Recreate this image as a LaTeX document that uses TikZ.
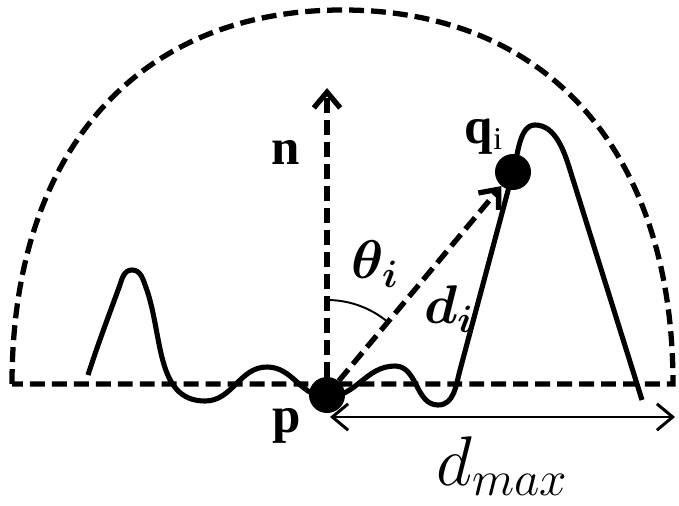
\RequirePackage{fix-cm}
\documentclass[tikz,border=0pt]{standalone}
\usepackage{amsmath}
\usepackage{bm}
\usepackage{fontspec}
\setmainfont{Liberation Serif}
\usetikzlibrary{arrows.meta}

\begin{document}
\begin{tikzpicture}[>={Straight Barb[length=9pt, width=15pt]}]
    \tikzstyle{dot}=[circle, fill=black, inner sep=0pt, minimum size=0.72cm]
    \tikzstyle{dashline}=[line width=3pt, dash pattern=on 8.5pt off 4pt]
    \tikzstyle{surface}=[line width=2.9pt, line join=round]
    \tikzstyle{boldtxt}=[inner sep=0pt, font=\fontsize{29pt}{29pt}\selectfont\bfseries]
    \tikzstyle{mathtxt}=[inner sep=0pt, font=\fontsize{31pt}{31pt}\selectfont]

    \useasboundingbox (0,0) rectangle (13.58,10.10);

    % hemisphere
    \draw[dashline] (0.24,2.42) .. controls (0.24,7.06) and (2.75,9.90) .. (6.85,9.90)
        .. controls (10.95,9.90) and (13.46,7.06) .. (13.46,2.42) -- cycle;

    % surface
    \draw[surface] (1.76,2.60) to[out=72,in=250] (2.38,4.35) to[out=70,in=180] (2.64,4.70)
        to[out=0,in=110] (2.92,4.35) to[out=-70,in=180] (4.10,2.08)
        to[out=0,in=180] (5.34,2.76) to[out=0,in=180] (6.54,2.16) to[out=0,in=180] (7.90,2.78)
        to[out=0,in=180] (8.76,2.00) to[out=0,in=255] (9.20,2.70) -- (10.26,6.66)
        to[out=72,in=180,looseness=0.8] (10.70,7.60) to[out=0,in=107,looseness=0.9] (11.40,6.70)
        -- (12.84,2.10);

    \node[dot] (p) at (6.54,2.20) {};
    \node[dot] (q) at (10.26,6.66) {};
    \coordinate (ntip) at (6.54,8.34);
    \coordinate (dstart) at (6.60,1.76);
    \coordinate (dend) at (13.50,1.76);

    \draw[dashline, ->] (p) -- (ntip);
    \draw[dashline, ->] (p) -- (q);
    \draw[line width=1.1pt] (p.center) ++(90:1.9) arc[start angle=90, end angle=50, radius=1.9];
    \draw[line width=1.7pt, <->] (dstart) -- (dend);

    \node[boldtxt] (nlbl) at (5.71,7.05) {n};
    \node[boldtxt] (plbl) at (5.74,1.58) {p};
    \node[boldtxt] (qlbl) at (9.67,7.36) {q\raisebox{-3pt}{\mdseries\fontsize{18pt}{18pt}\selectfont i}};
    \node[mathtxt] (theta) at (7.50,4.82) {$\bm{\theta_i}$};
    \node[mathtxt] (di) at (8.98,3.92) {$\bm{d_i}$};
    \node[mathtxt, font=\fontsize{40pt}{40pt}\selectfont] (dmax) at (10.04,0.78) {$d_{max}$};
\end{tikzpicture}
\end{document}
